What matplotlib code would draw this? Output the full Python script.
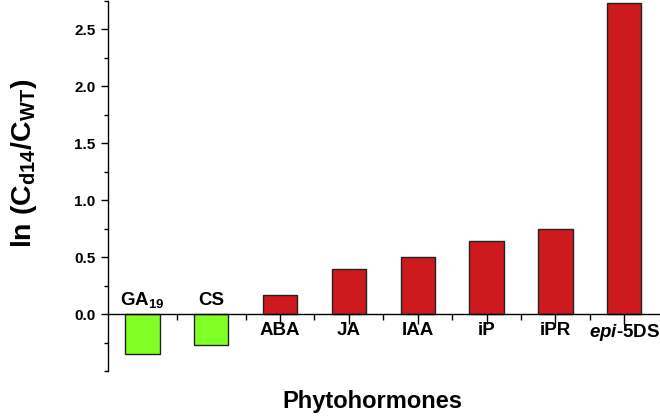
import matplotlib
matplotlib.use("Agg")
import matplotlib.pyplot as plt
from matplotlib.ticker import FixedLocator
import numpy as np

plt.rcParams['font.family'] = ['Liberation Sans', 'DejaVu Sans']
plt.rcParams['mathtext.fontset'] = 'custom'
plt.rcParams['mathtext.rm'] = 'Liberation Sans:bold'
plt.rcParams['mathtext.bf'] = 'Liberation Sans:bold'
plt.rcParams['mathtext.it'] = 'Liberation Sans:italic:bold'

categories = ['GA$_{\\mathbf{19}}$', 'CS', 'ABA', 'JA', 'IAA', 'iP', 'iPR', '$\\mathit{epi}$-5DS']
values = [-0.35, -0.27, 0.17, 0.40, 0.50, 0.64, 0.745, 2.73]
colors_neg = '#80FF26'
colors_pos = '#CC1A1E'
yticks = [0.0, 0.5, 1.0, 1.5, 2.0, 2.5]

fig = plt.figure(figsize=(6.6, 4.16), dpi=100)
ax = fig.add_axes([0.1636, 0.108, 0.8364, 0.890])

x = np.arange(len(categories))
cols = [colors_neg if v < 0 else colors_pos for v in values]
ax.bar(x, values, width=0.5, color=cols, edgecolor='#222222', linewidth=1.0, zorder=2)

ax.set_xlim(-0.5, 7.52)
ax.set_ylim(-0.5, 2.75)

ax.spines['top'].set_visible(False)
ax.spines['right'].set_visible(False)
ax.spines['bottom'].set_position(('data', 0))
ax.spines['left'].set_bounds(-0.5, 2.75)
for s in ('left', 'bottom'):
    ax.spines[s].set_linewidth(1.0)
    ax.spines[s].set_zorder(3)

ax.set_yticks(yticks)
ax.set_yticklabels([f'{t:.1f}' for t in yticks], fontsize=11, fontweight='bold')
ax.yaxis.set_minor_locator(FixedLocator(np.arange(-0.5, 2.76, 0.25)))
ax.tick_params(axis='y', which='major', direction='out', length=5, width=1.0, pad=4)
ax.tick_params(axis='y', which='minor', direction='out', length=3, width=1.0)

ax.set_xticks(x)
ax.set_xticklabels([])
ax.xaxis.set_minor_locator(FixedLocator(x[:-1] + 0.5))
ax.tick_params(axis='x', which='major', direction='out', length=7, width=1.0)
ax.tick_params(axis='x', which='minor', direction='out', length=4, width=1.0)

for xi, lab, v in zip(x, categories, values):
    if v >= 0:
        ax.annotate(lab, (xi, 0), xytext=(0, -6), textcoords='offset points',
                    ha='center', va='top', fontsize=13.5, fontweight='bold')
    else:
        ax.annotate(lab, (xi, 0), xytext=(0, 6.5), textcoords='offset points',
                    ha='center', va='baseline', fontsize=13.5, fontweight='bold')

ax.set_ylabel('ln (C$_{\\mathbf{d14}}$/C$_{\\mathbf{WT}}$)', fontsize=20.5, fontweight='bold')
ax.yaxis.set_label_coords(-0.125, 0.56)
fig.text(0.564, 0.036, 'Phytohormones', ha='center', va='center', fontsize=17, fontweight='bold')

fig.savefig('out.png', dpi=100)
